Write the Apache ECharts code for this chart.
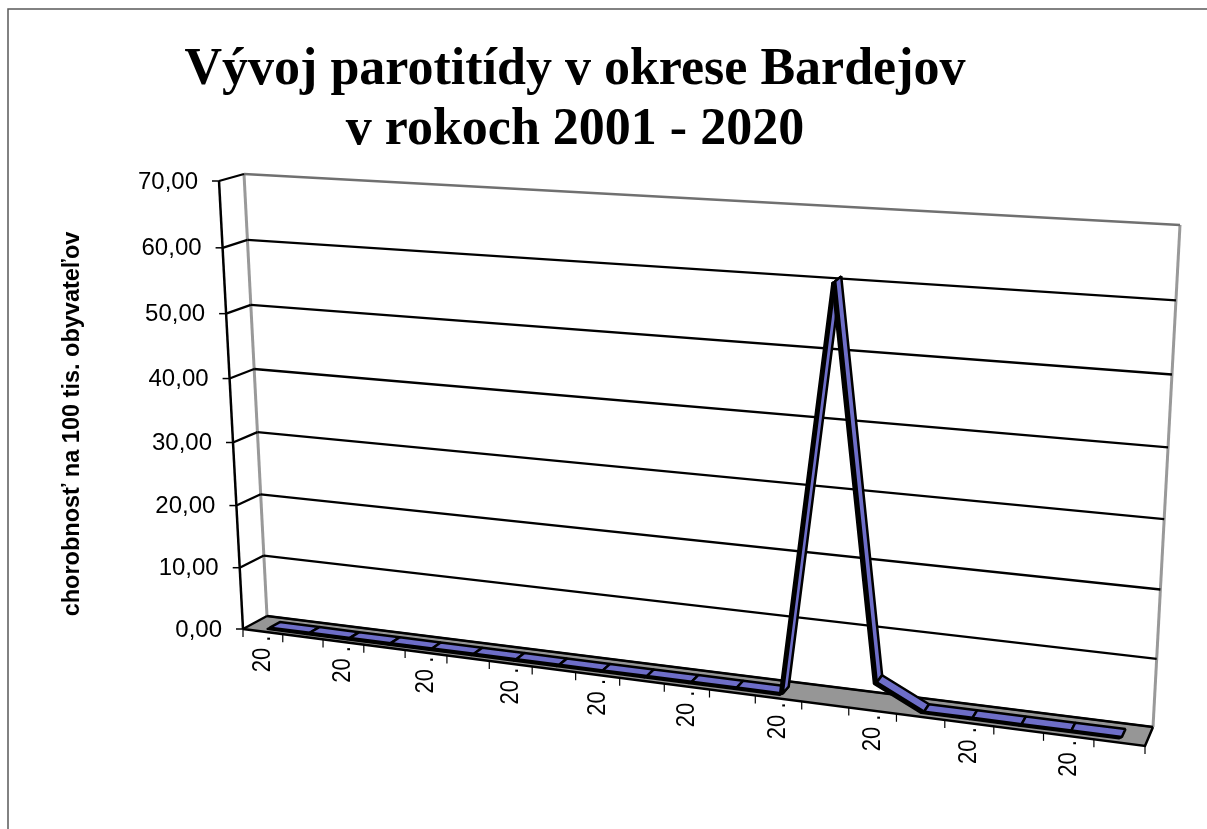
<!DOCTYPE html>
<html>
<head>
<meta charset="utf-8">
<style>html,body{margin:0;padding:0;background:#fff}#main{width:1207px;height:829px}</style>
<script src="https://cdn.jsdelivr.net/npm/echarts@6/dist/echarts.min.js"></script>
</head>
<body>
<div id="main"></div>
<script>
var years = ['2001','2002','2003','2004','2005','2006','2007','2008','2009','2010',
             '2011','2012','2013','2014','2015','2016','2017','2018','2019','2020'];
var morbidity = [0,0,0,0,0,0,0,0,0,0,0,0,0,60.8,3.5,0,0,0,0,0];
var yTicks = [0,10,20,30,40,50,60,70];
var seriesName = 'Bardejov';
var titleLines = 'Vývoj parotitídy v okrese Bardejov\nv rokoch 2001 - 2020';
var yName = 'chorobnosť na 100 tis. obyvateľov';

// corners of the excel 3d box, [left-bottom, right-bottom, right-top, left-top]
var backWall = [[267,616],[1153,727],[1180,225],[244,174]];
var frontWall = [[243,629],[1145,746],[1171,238],[219,181]];
var ribbonDepth = [0.3, 0.72];
var ribbonSide = [-3, 1.5]; // dark side of the ribbon, in pixels

function quadMap(q) {
    var x0=q[0][0],y0=q[0][1],x1=q[1][0],y1=q[1][1],x2=q[2][0],y2=q[2][1],x3=q[3][0],y3=q[3][1];
    var dx1=x1-x2,dx2=x3-x2,sx=x0-x1+x2-x3,dy1=y1-y2,dy2=y3-y2,sy=y0-y1+y2-y3;
    var den=dx1*dy2-dx2*dy1;
    var g=(sx*dy2-dx2*sy)/den,h=(dx1*sy-sx*dy1)/den;
    var a=x1-x0+g*x1,b=x3-x0+h*x3,d=y1-y0+g*y1,e=y3-y0+h*y3;
    return function (u,v) {
        var w=g*u+h*v+1;
        return [(a*u+b*v+x0)/w,(d*u+e*v+y0)/w];
    };
}
var backMap = quadMap(backWall), frontMap = quadMap(frontWall);

function project(u,v,depth) {
    var f=frontMap(u,v), b=backMap(u,v);
    return [f[0]+(b[0]-f[0])*depth, f[1]+(b[1]-f[1])*depth];
}
// grid pixel from the axes -> 0..1 box position
function toBox(params,pt) {
    var c=params.coordSys;
    return [(pt[0]-c.x)/c.width,(c.y+c.height-pt[1])/c.height];
}

function renderFloor(params,api) {
    var v=toBox(params,api.coord([0,0]))[1];
    return {type:'group',children:[
        {type:'polygon',shape:{points:[project(0,v,0),project(1,v,0),project(1,v,1),project(0,v,1)]},
            style:{fill:'#969696',stroke:null}},
        {type:'polyline',shape:{points:[project(0,v,1),project(1,v,1)]},style:{stroke:'#3c3c3c',lineWidth:2,fill:null}},
        {type:'polyline',shape:{points:[project(0,v,0),project(1,v,0),project(1,v,1)]},style:{stroke:'#000',lineWidth:2.5,fill:null}},
        {type:'polyline',shape:{points:[project(0,v,0),project(0,v,1)]},style:{stroke:'#555',lineWidth:1,fill:null}},
        {type:'polyline',shape:{points:[project(0,0,1),project(0,1,1)]},style:{stroke:'#999',lineWidth:3,fill:null}},
        {type:'polyline',shape:{points:[project(1,0,1),project(1,1,1)]},style:{stroke:'#999',lineWidth:3,fill:null}},
        {type:'polyline',shape:{points:[project(0,0,0),project(0,1,0)]},style:{stroke:'#000',lineWidth:2.5,fill:null}}
    ]};
}

function renderGridLine(params,api) {
    var val=api.value(1);
    var v=toBox(params,api.coord([0,val]))[1];
    var a=project(0,v,0);
    var top=val===yTicks[yTicks.length-1];
    return {type:'group',children:[
        {type:'polyline',shape:{points:[project(0,v,1),project(1,v,1)]},
            style:{stroke:top?'#707070':'#000',lineWidth:2.3,fill:null}},
        {type:'polyline',shape:{points:[a,project(0,v,1)]},style:{stroke:'#000',lineWidth:2.3,fill:null}},
        {type:'polyline',shape:{points:[[a[0]-7,a[1]],a]},style:{stroke:'#000',lineWidth:1.5,fill:null}},
        {type:'text',x:a[0]-21,y:a[1]+1,
            style:{text:val.toFixed(2).replace('.',','),fontFamily:'"Liberation Sans"',fontSize:24,
                textAlign:'right',textVerticalAlign:'middle',fill:'#000'}}
    ]};
}

function renderCategory(params,api) {
    var i=api.value(0);
    var band=api.size([1,0])[0];
    var c=api.coord([i,0]);
    var b=toBox(params,[c[0]+band/2,c[1]]);
    var m=toBox(params,c);
    var kids=[];
    var t=project(b[0],b[1],0);
    kids.push({type:'polyline',shape:{points:[t,[t[0],t[1]+8]]},style:{stroke:'#000',lineWidth:1.2,fill:null}});
    if (i===0) {
        var t0=project(0,b[1],0);
        kids.push({type:'polyline',shape:{points:[t0,[t0[0],t0[1]+8]]},style:{stroke:'#000',lineWidth:1.2,fill:null}});
    }
    if (i%2===0) {
        var p=project(m[0],m[1],0);
        kids.push({type:'text',x:p[0],y:p[1]+4,rotation:Math.PI/2,scaleY:1.15,
            style:{text:years[i].slice(0,2)+' .',fontFamily:'"Liberation Sans"',fontSize:22,
                textAlign:'right',textVerticalAlign:'middle',fill:'#000'}});
    }
    return {type:'group',children:kids};
}

function renderRibbon(params,api) {
    var i=api.value(0);
    if (i>=years.length-1) return {type:'group',children:[]};
    var a=toBox(params,api.coord([i,api.value(1)]));
    var b=toBox(params,api.coord([i+1,morbidity[i+1]]));
    var n=ribbonDepth[0],f=ribbonDepth[1];
    var pa=project(a[0],a[1],n),pb=project(b[0],b[1],n);
    return {type:'group',children:[
        {type:'polygon',shape:{points:[pa,pb,[pb[0]+ribbonSide[0],pb[1]+ribbonSide[1]],
            [pa[0]+ribbonSide[0],pa[1]+ribbonSide[1]]]},
            style:{fill:'#000',stroke:'#000',lineWidth:2,lineJoin:'bevel'}},
        {type:'polygon',shape:{points:[pa,pb,project(b[0],b[1],f),project(a[0],a[1],f)]},
            style:{fill:'#6e6ec8',stroke:'#000',lineWidth:2.5,lineJoin:'bevel'}}
    ]};
}

var myChart = echarts.init(document.getElementById('main'));

var option = {
    animation:false,
    grid:{left:244,top:174,width:936,height:442,show:false},
    xAxis:{type:'category',data:years,show:false,boundaryGap:true},
    yAxis:{type:'value',min:0,max:70,interval:10,show:false},
    graphic:[
        {type:'polyline',shape:{points:[[8,829],[8,9],[1207,9]]},style:{stroke:'#5a5a5a',lineWidth:1.5,fill:null}},
        {type:'text',x:575,y:101,
            style:{text:titleLines,fontFamily:'"Liberation Serif"',fontWeight:'bold',fontSize:52,lineHeight:60,
                textAlign:'center',textVerticalAlign:'middle',fill:'#000'}},
        {type:'text',x:73,y:424,rotation:Math.PI/2,
            style:{text:yName,fontFamily:'"Liberation Sans"',fontWeight:'bold',fontSize:23.5,
                textAlign:'center',textVerticalAlign:'middle',fill:'#000'}}
    ],
    series:[
        {type:'custom',name:'floor',renderItem:renderFloor,data:[[0,0]],silent:true,z:1},
        {type:'custom',name:'grid',renderItem:renderGridLine,
            data:yTicks.map(function(t){return [0,t];}),silent:true,z:2},
        {type:'custom',name:'categories',renderItem:renderCategory,
            data:years.map(function(y,i){return [i,0];}),silent:true,z:3},
        {type:'custom',name:seriesName,renderItem:renderRibbon,
            data:morbidity.map(function(m,i){return [i,m];}),silent:true,z:4}
    ]
};
myChart.setOption(option);
</script>
</body>
</html>
